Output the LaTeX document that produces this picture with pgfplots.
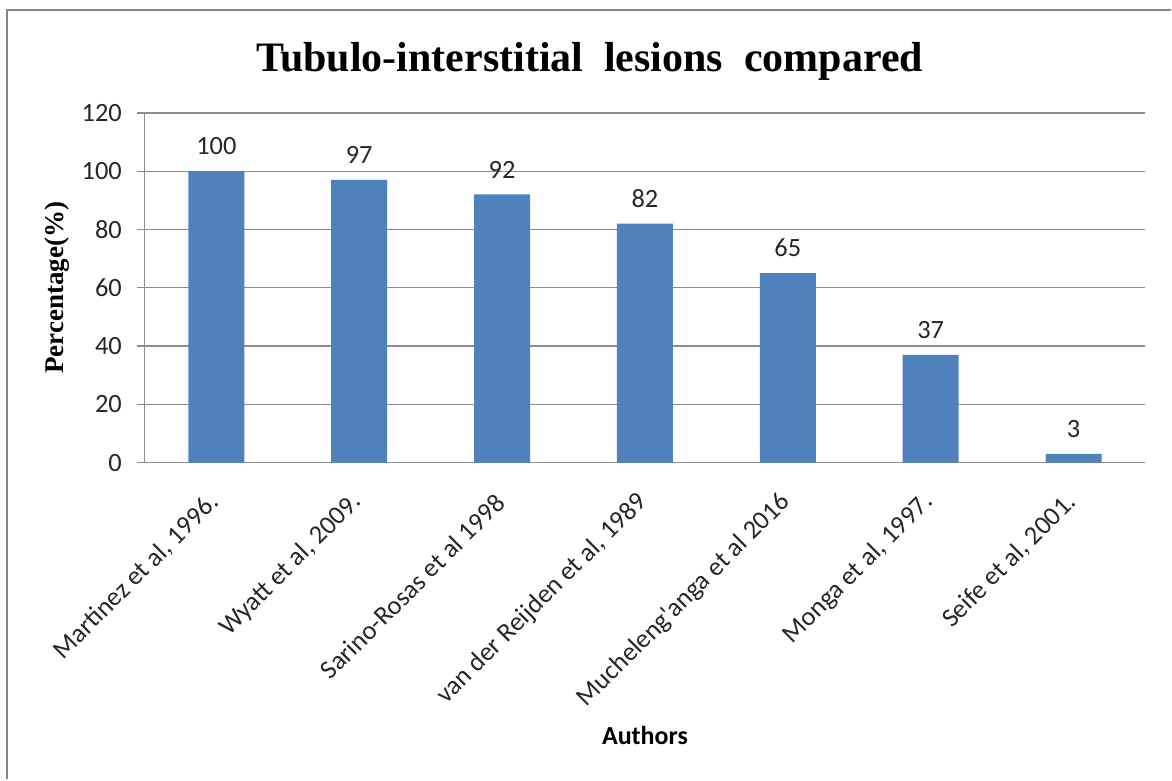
\documentclass[border=0pt]{standalone}
\usepackage{pgfplots}
\pgfplotsset{compat=1.18}
\usepackage{fontspec}
\setmainfont{Carlito}[Ligatures=TeXOff]
\newfontfamily\timesfont{Liberation Serif}
\definecolor{barblue}{HTML}{4F81BD}
\definecolor{gridgray}{HTML}{8C8C8C}
\definecolor{framegray}{HTML}{868686}

\begin{document}
\begin{tikzpicture}[x=1pt,y=1pt]
\begin{axis}[
  at={(0,0)}, anchor=south west,
  scale only axis,
  width=500.5pt, height=175pt,
  ymin=0, ymax=120,
  ytick={0,20,...,120},
  xmin=-0.5, xmax=6.5,
  xtick=data,
  xticklabels={{Martinez et al, 1996.},{Wyatt et al, 2009.},{Sarino-Rosas et al 1998},{van der Reijden et al, 1989},{Mucheleng'anga et al 2016},{Monga et al, 1997.},{Seife et al, 2001.}},
  x tick style={draw=none},
  y tick style={draw=gridgray, line width=0.6pt},
  tick align=outside,
  major tick length=4pt,
  ymajorgrids,
  grid style={gridgray, line width=0.6pt},
  axis line style={gridgray, line width=0.6pt},
  axis x line*=bottom,
  axis y line*=left,
  ticklabel style={font=\fontsize{13.2}{15}\selectfont, text=black!85},
  /pgf/number format/assume math mode=true,
  xticklabel style={yshift=-13pt, rotate=45, anchor=east, inner sep=1pt},
  yticklabel style={xshift=-4pt},
  ybar, bar width=28pt,
  nodes near coords,
  every node near coord/.append style={font=\fontsize{13.2}{15}\selectfont, text=black!85, yshift=4.5pt},
  clip=false,
]
\addplot[fill=barblue, draw=none] coordinates {
  (0,100) (1,97) (2,92) (3,82) (4,65) (5,37) (6,3)
};
\end{axis}
% title, axis titles and outer frame
\node[anchor=base, font=\timesfont\bfseries\fontsize{21}{24}\selectfont] at (222.5,195.5) {Tubulo-interstitial\ \ lesions\ \ compared};
\node[rotate=90, font=\timesfont\bfseries\fontsize{13.5}{16}\selectfont] at (-44,87.5) {Percentage(\%)};
\node[anchor=base, font=\bfseries\fontsize{13}{16}\selectfont] at (250.25,-141) {Authors};
\draw[framegray, line width=1pt] (-69,-158.5) -- (-69,226.5) -- (513.5,226.5);
\useasboundingbox (-72.5,-158.5) rectangle (513.5,231.5);
\end{tikzpicture}
\end{document}
